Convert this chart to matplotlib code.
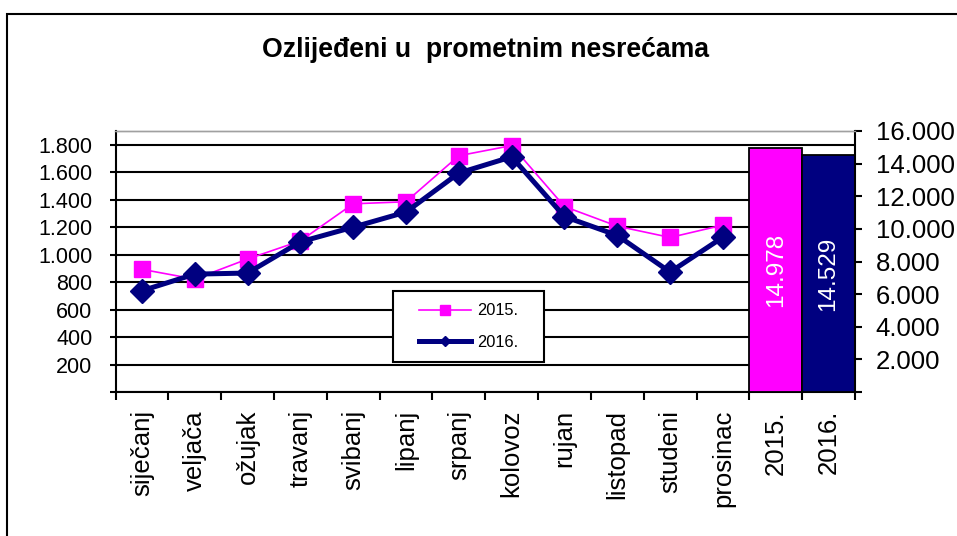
import numpy as np
import matplotlib.pyplot as plt
from matplotlib.lines import Line2D
from matplotlib.patches import Rectangle

plt.rcParams["font.family"] = ["Liberation Sans", "DejaVu Sans"]

TITLE = "Ozlijeđeni u  prometnim nesrećama"
MONTHS = ["siječanj", "veljača", "ožujak", "travanj", "svibanj", "lipanj",
          "srpanj", "kolovoz", "rujan", "listopad", "studeni", "prosinac"]
YEARS = ["2015.", "2016."]
S2015 = [893, 822, 968, 1100, 1370, 1385, 1720, 1794, 1350, 1207, 1125, 1215]
S2016 = [737, 858, 866, 1093, 1200, 1310, 1594, 1712, 1277, 1140, 873, 1127]
TOTALS = [14978, 14529]

PINK = "#FF00FF"
NAVY = "#000080"
W, H = 957, 536


def dotted(v):
    return f"{v:,.0f}".replace(",", ".")


def main() -> None:
    fig = plt.figure(figsize=(W / 100, H / 100), dpi=100)
    ax = fig.add_axes([115.5 / W, 1 - 392 / H, (855 - 115.5) / W, (392 - 131) / H])
    ax2 = ax.twinx()

    cats = MONTHS + YEARS
    xm = np.arange(len(MONTHS))
    xb = np.arange(len(MONTHS), len(cats))

    ax.set_xlim(-0.5, len(cats) - 0.5)
    ax.set_ylim(0, 1900)
    ax2.set_ylim(0, 16000)

    ax.plot(xm, S2015, color=PINK, lw=1.2, marker="s", ms=11, mec=PINK, zorder=3)
    ax.plot(xm, S2016, color=NAVY, lw=3.6, marker="D", ms=12, mec=NAVY, zorder=4)

    ax2.bar(xb, TOTALS, width=1.0, color=[PINK, NAVY], edgecolor="black", lw=1.3, zorder=2)
    for x, v in zip(xb, TOTALS):
        ax2.text(x, v / 2, dotted(v), rotation=90, ha="center", va="center",
                 color="white", fontsize=17.5, zorder=3)

    # x axis: tick marks on slot borders, labels at slot centres
    ax.set_xticks(np.arange(-0.5, len(cats), 1))
    ax.set_xticklabels([])
    ax.set_xticks(np.arange(len(cats)), minor=True)
    ax.set_xticklabels(cats, minor=True, rotation=90, va="top", fontsize=18.5)
    ax.tick_params(axis="x", which="major", direction="out", length=6, width=1.5)
    ax.tick_params(axis="x", which="minor", length=0, pad=13)

    lt = np.arange(0, 1801, 200)
    ax.set_yticks(lt)
    ax.set_yticklabels([""] + [dotted(v) for v in lt[1:]], fontsize=15.5)
    ax.tick_params(axis="y", direction="out", length=4.5, width=1.5, pad=12)

    rt = np.arange(0, 16001, 2000)
    ax2.set_yticks(rt)
    ax2.set_yticklabels([""] + [dotted(v) for v in rt[1:]], fontsize=18.5)
    ax2.tick_params(axis="y", direction="out", length=5, width=1.5, pad=10)

    ax.grid(axis="y", color="black", lw=1.5)
    ax.set_axisbelow(True)

    for a in (ax, ax2):
        a.spines["top"].set_color("#A0A0A0")
        a.spines["top"].set_linewidth(1.0)
    ax.spines["left"].set_linewidth(1.5)
    ax.spines["bottom"].set_linewidth(1.5)
    ax.spines["right"].set_visible(False)
    ax2.spines["left"].set_visible(False)
    ax2.spines["bottom"].set_visible(False)
    ax2.spines["right"].set_linewidth(1.5)

    # legend with its own frame
    box = Rectangle((393 / W, 1 - 362 / H), (544 - 393) / W, (362 - 291) / H,
                    transform=fig.transFigure, facecolor="white", edgecolor="black",
                    lw=1.5, zorder=4, clip_on=False)
    ax2.add_patch(box)
    handles = [
        Line2D([], [], color=PINK, lw=1.2, marker="s", ms=7, mec=PINK),
        Line2D([], [], color=NAVY, lw=3.6, marker="D", ms=5.5, mec=NAVY),
    ]
    ax2.legend(handles, YEARS, loc="center", bbox_to_anchor=(468.5 / W, 1 - 326.5 / H),
               bbox_transform=fig.transFigure, frameon=False, fontsize=11.8,
               handlelength=3.2, handletextpad=0.35, labelspacing=1.0, borderpad=0)

    fig.text(485 / W, 1 - 50 / H, TITLE, ha="center", va="center",
             fontsize=19.2, fontweight="bold")

    fig.patches.append(Rectangle((7 / W, -0.1), 1.2, 1.1 - 14 / H, fill=False,
                                 edgecolor="black", lw=1.5, transform=fig.transFigure))

    fig.savefig("out.png", dpi=100, facecolor="white")


if __name__ == "__main__":
    main()
